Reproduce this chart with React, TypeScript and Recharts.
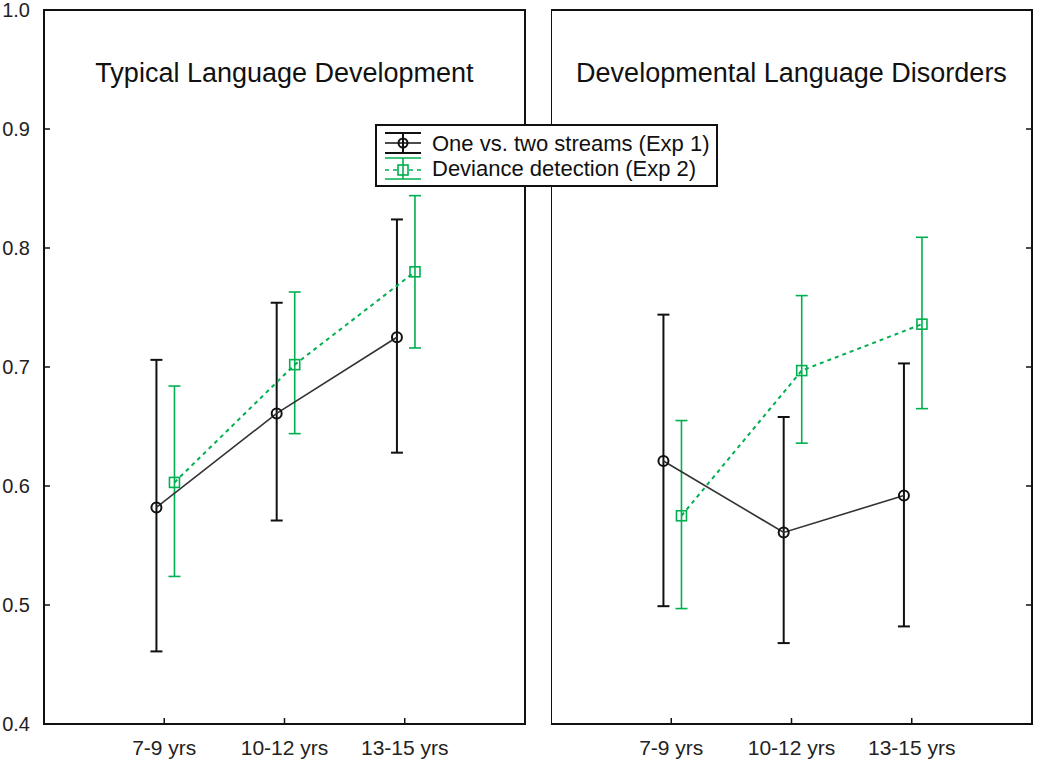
import { ScatterChart, Scatter, XAxis, YAxis, ErrorBar, ReferenceArea } from 'recharts'

// ── Data ─────────────────────────────────────────────────────────────────────
const categories = ['7-9 yrs', '10-12 yrs', '13-15 yrs']
const yTicks = [0.4, 0.5, 0.6, 0.7, 0.8, 0.9, 1.0]

// Typical Language Development
const tldExp1Mean = [0.582, 0.661, 0.725]
const tldExp1Low = [0.461, 0.571, 0.628]
const tldExp1High = [0.706, 0.754, 0.824]
const tldExp2Mean = [0.603, 0.702, 0.780]
const tldExp2Low = [0.524, 0.644, 0.716]
const tldExp2High = [0.684, 0.763, 0.844]

// Developmental Language Disorders
const dldExp1Mean = [0.621, 0.561, 0.592]
const dldExp1Low = [0.499, 0.468, 0.482]
const dldExp1High = [0.744, 0.658, 0.703]
const dldExp2Mean = [0.575, 0.697, 0.736]
const dldExp2Low = [0.497, 0.636, 0.665]
const dldExp2High = [0.655, 0.760, 0.809]

const BLACK = '#111'
const GREEN = '#00b050'
const FONT = '"Liberation Sans", Arial, sans-serif'

// small horizontal dodge so the two series don't overlap
const OFFSET_EXP1 = -0.065
const OFFSET_EXP2 = 0.085

const makeSeries = (mean: number[], low: number[], high: number[], offset: number) =>
  categories.map((_, i) => ({
    x: i + 1 + offset,
    y: mean[i],
    err: [mean[i] - low[i], high[i] - mean[i]],
  }))

// ── Markers ──────────────────────────────────────────────────────────────────
const CircleMark = (p: any) => (
  <circle cx={p.cx} cy={p.cy} r={5} fill="none" stroke={BLACK} strokeWidth={2} />
)
const SquareMark = (p: any) => (
  <rect x={p.cx - 5} y={p.cy - 5} width={10} height={10} fill="none" stroke={GREEN} strokeWidth={1.6} />
)

// ── Ticks (drawn inward, like the original) ───────────────────────────────────
const LeftYTick = ({ x, y, payload }: any) => (
  <g>
    <line x1={x} x2={x + 6} y1={y} y2={y} stroke={BLACK} strokeWidth={1.5} />
    <text x={x - 14} y={y} dy="0.36em" textAnchor="end" fontSize={20} fontFamily={FONT} fill="#222">
      {Number(payload.value).toFixed(1)}
    </text>
  </g>
)
const RightYTick = ({ x, y }: any) => (
  <line x1={x - 6} x2={x} y1={y} y2={y} stroke={BLACK} strokeWidth={1.5} />
)
const XTick = ({ x, y, payload }: any) => (
  <g>
    <line x1={x} x2={x} y1={y} y2={y - 6} stroke={BLACK} strokeWidth={1.5} />
    <text x={x} y={y + 31} textAnchor="middle" fontSize={21} fontFamily={FONT} fill="#222">
      {categories[Math.round(payload.value) - 1]}
    </text>
  </g>
)

function Panel({ exp1, exp2, side }: { exp1: any[], exp2: any[], side: 'left' | 'right' }) {
  const width = side === 'left' ? 530 : 499
  return (
    <ScatterChart width={width} height={761}
      margin={{ top: 10, right: side === 'left' ? 5 : 0, bottom: 0, left: 0 }}>
      <XAxis type="number" dataKey="x" domain={[0, 4]} ticks={[1, 2, 3]} height={37}
        axisLine={false} tickLine={false} tickSize={0} tickMargin={0} tick={<XTick />} />
      <YAxis type="number" dataKey="y" domain={[0.4, 1.0]} ticks={yTicks}
        orientation={side} width={side === 'left' ? 44 : 18}
        axisLine={false} tickLine={false} tickSize={0} tickMargin={0}
        tick={side === 'left' ? <LeftYTick /> : <RightYTick />} />
      <ReferenceArea x1={0} x2={4} y1={0.4} y2={1.0} fill="none" stroke={BLACK} strokeWidth={2} />
      <Scatter data={exp1} shape={<CircleMark />} isAnimationActive={false}
        line={{ stroke: '#333', strokeWidth: 1.6 }}>
        <ErrorBar dataKey="err" direction="y" width={6} stroke={BLACK} strokeWidth={2} isAnimationActive={false} />
      </Scatter>
      <Scatter data={exp2} shape={<SquareMark />} isAnimationActive={false}
        line={{ stroke: GREEN, strokeWidth: 2, strokeDasharray: '4 4' }}>
        <ErrorBar dataKey="err" direction="y" width={6} stroke={GREEN} strokeWidth={1.6} isAnimationActive={false} />
      </Scatter>
    </ScatterChart>
  )
}

function Legend() {
  return (
    <svg width={350} height={66} style={{ position: 'absolute', left: 375, top: 124 }}>
      <rect x={1} y={1} width={341} height={61} fill="#fff" stroke={BLACK} strokeWidth={2} />
      {/* Exp 1 */}
      <line x1={10} x2={46} y1={9} y2={9} stroke={BLACK} strokeWidth={2} />
      <line x1={28} x2={28} y1={9} y2={29} stroke={BLACK} strokeWidth={2} />
      <line x1={10} x2={46} y1={19} y2={19} stroke={BLACK} strokeWidth={1.6} />
      <line x1={10} x2={46} y1={29} y2={29} stroke={BLACK} strokeWidth={2} />
      <circle cx={28} cy={19} r={4.5} fill="none" stroke={BLACK} strokeWidth={2} />
      <text x={57} y={27} fontSize={22} fontFamily={FONT} fill="#111">One vs. two streams (Exp 1)</text>
      {/* Exp 2 */}
      <line x1={10} x2={46} y1={34} y2={34} stroke={GREEN} strokeWidth={1.6} />
      <line x1={28} x2={28} y1={34} y2={55} stroke={GREEN} strokeWidth={1.6} />
      <line x1={10} x2={46} y1={46} y2={46} stroke={GREEN} strokeWidth={1.6} strokeDasharray="4 4" />
      <line x1={10} x2={46} y1={55} y2={55} stroke={GREEN} strokeWidth={1.6} />
      <rect x={23} y={41} width={10} height={10} fill="#fff" stroke={GREEN} strokeWidth={1.6} />
      <line x1={28} x2={28} y1={41} y2={51} stroke={GREEN} strokeWidth={1.6} />
      <text x={57} y={52} fontSize={22} fontFamily={FONT} fill="#111">Deviance detection (Exp 2)</text>
    </svg>
  )
}

const titleStyle = {
  position: 'absolute' as const, top: 60, width: 481, textAlign: 'center' as const,
  fontFamily: FONT, fontSize: 27, lineHeight: 1, color: '#111', whiteSpace: 'nowrap' as const,
}

export default function App() {
  return (
    <div style={{ position: 'absolute', left: 0, top: 0, width: 1050, height: 761, background: '#fff' }}>
      <div style={{ position: 'absolute', left: 0, top: 0 }}>
        <Panel side="left"
          exp1={makeSeries(tldExp1Mean, tldExp1Low, tldExp1High, OFFSET_EXP1)}
          exp2={makeSeries(tldExp2Mean, tldExp2Low, tldExp2High, OFFSET_EXP2)} />
      </div>
      <div style={{ position: 'absolute', left: 551, top: 0 }}>
        <Panel side="right"
          exp1={makeSeries(dldExp1Mean, dldExp1Low, dldExp1High, OFFSET_EXP1)}
          exp2={makeSeries(dldExp2Mean, dldExp2Low, dldExp2High, OFFSET_EXP2)} />
      </div>
      <div style={{ ...titleStyle, left: 44 }}>Typical Language Development</div>
      <div style={{ ...titleStyle, left: 551 }}>Developmental Language Disorders</div>
      <Legend />
    </div>
  )
}
